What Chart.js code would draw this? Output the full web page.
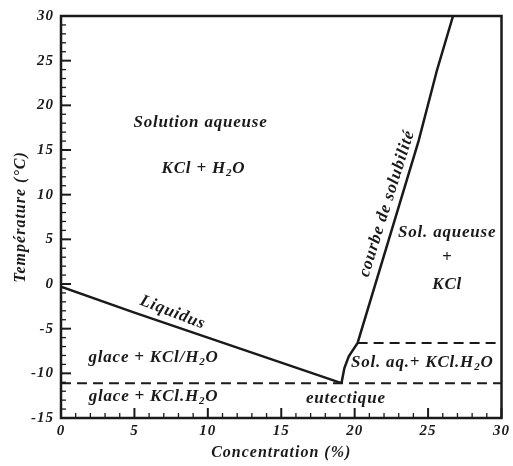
<!DOCTYPE html>
<html lang="fr">
  <head>
    <meta charset="UTF-8" />
    <title>Diagramme KCl - H2O</title>
    <script src="https://cdn.jsdelivr.net/npm/chart.js@4.4.0/dist/chart.umd.min.js"></script>
    <style>
      html, body { margin: 0; padding: 0; background: #fff; }
      .chart-container { width: 513px; height: 466px; }
    </style>
  </head>
  <body>
    <div class="chart-container">
      <canvas id="myChart"></canvas>
    </div>

    <script>
      // liquidus (glace / solution)
      const liqConc = [0, 5, 10, 15, 19.1];
      const liqTemp = [-0.3, -3.2, -6.0, -8.8, -11.1];

      // courbe de solubilite, depuis l'eutectique
      const solConc = [19.1, 19.3, 19.6, 20.2, 24.35, 25.6, 26.7];
      const solTemp = [-11.1, -9.4, -8.1, -6.6, 16, 23.9, 30];

      // paliers (tirets)
      const eutConc = [0, 30];
      const eutTemp = [-11.1, -11.1];
      const hydConc = [20.2, 30];
      const hydTemp = [-6.6, -6.6];

      const xTicks = [0, 5, 10, 15, 20, 25, 30];
      const yTicks = [-15, -10, -5, 0, 5, 10, 15, 20, 25, 30];

      // textes dans le diagramme : [texte, concentration, temperature, angle]
      const notes = [
        ["Solution aqueuse", 9.5, 18.1, 0],
        ["KCl + H_2O", 9.7, 12.9, 0],
        ["Liquidus", 7.6, -3.2, 21],
        ["glace + KCl/H_2O", 6.3, -8.2, 0],
        ["glace + KCl.H_2O", 6.3, -12.6, 0],
        ["eutectique", 19.4, -12.8, 0],
        ["Sol. aq.+ KCl.H_2O", 24.6, -8.8, 0],
        ["Sol. aqueuse", 26.3, 5.8, 0],
        ["+", 26.3, 2.9, 0],
        ["KCl", 26.3, -0.1, 0],
        ["courbe de solubilité", 22.2, 9.0, -72.5],
      ];

      const toXY = (xs, ys) => xs.map((x, i) => ({ x: x, y: ys[i] }));
      const FONT = "'Liberation Serif', 'Times New Roman', serif";
      const INK = "#1a1a1a";

      function drawRich(ctx, str, size) {
        // "_2" => indice
        const parts = [];
        let i = 0, buf = "";
        while (i < str.length) {
          if (str[i] === "_") {
            if (buf) parts.push([buf, false]);
            buf = "";
            parts.push([str[i + 1], true]);
            i += 2;
          } else {
            buf += str[i];
            i++;
          }
        }
        if (buf) parts.push([buf, false]);
        const big = "italic bold " + size + "px " + FONT;
        const small = "italic bold " + Math.round(size * 0.62) + "px " + FONT;
        let total = 0;
        parts.forEach((p) => {
          ctx.font = p[1] ? small : big;
          total += ctx.measureText(p[0]).width;
        });
        let x = -total / 2;
        ctx.textAlign = "left";
        ctx.textBaseline = "middle";
        parts.forEach((p) => {
          ctx.font = p[1] ? small : big;
          ctx.fillText(p[0], x, p[1] ? size * 0.28 : 0);
          x += ctx.measureText(p[0]).width;
        });
      }

      const framePlugin = {
        id: "frame",
        beforeDraw(chart) {
          // texte un peu espace, comme l'original
          chart.ctx.letterSpacing = "1px";
        },
        afterDatasetsDraw(chart) {
          const ctx = chart.ctx;
          const a = chart.chartArea;
          const sx = chart.scales.x, sy = chart.scales.y;
          ctx.save();
          ctx.strokeStyle = INK;
          // ticks vers l'interieur
          for (let v = 0; v <= 30; v++) {
            const px = sx.getPixelForValue(v);
            const len = v % 5 === 0 ? 10 : 5;
            ctx.lineWidth = v % 5 === 0 ? 2 : 1.3;
            ctx.beginPath();
            ctx.moveTo(px, a.bottom);
            ctx.lineTo(px, a.bottom - len);
            ctx.stroke();
          }
          for (let v = -15; v <= 30; v++) {
            const py = sy.getPixelForValue(v);
            const len = v % 5 === 0 ? 10 : 5;
            ctx.lineWidth = v % 5 === 0 ? 2 : 1.3;
            ctx.beginPath();
            ctx.moveTo(a.left, py);
            ctx.lineTo(a.left + len, py);
            ctx.stroke();
          }
          ctx.lineWidth = 2.5;
          ctx.strokeRect(a.left, a.top, a.right - a.left, a.bottom - a.top);

          ctx.fillStyle = INK;
          ctx.letterSpacing = "0.8px";
          notes.forEach((n) => {
            ctx.save();
            ctx.translate(sx.getPixelForValue(n[1]), sy.getPixelForValue(n[2]));
            ctx.rotate((n[3] * Math.PI) / 180);
            drawRich(ctx, n[0], 17);
            ctx.restore();
          });
          ctx.restore();
        },
      };

      const solid = { borderColor: INK, borderWidth: 2.5, pointRadius: 0, showLine: true, fill: false, tension: 0 };
      const dashed = { borderColor: INK, borderWidth: 2, borderDash: [10, 6], pointRadius: 0, showLine: true, fill: false };

      const tickFont = { family: FONT, size: 15, style: "italic", weight: "bold" };
      const titleFont = { family: FONT, size: 16, style: "italic", weight: "bold" };

      const myChart = new Chart(document.getElementById("myChart"), {
        type: "scatter",
        data: {
          datasets: [
            Object.assign({ label: "Liquidus", data: toXY(liqConc, liqTemp) }, solid),
            Object.assign({ label: "Solubilite", data: toXY(solConc, solTemp) }, solid),
            Object.assign({ label: "Eutectique", data: toXY(eutConc, eutTemp) }, dashed),
            Object.assign({ label: "Hydrate", data: toXY(hydConc, hydTemp) }, dashed),
          ],
        },
        options: {
          responsive: true,
          maintainAspectRatio: false,
          animation: false,
          layout: { padding: { left: 0, top: 15, right: 10, bottom: 0 } },
          plugins: { legend: { display: false }, tooltip: { enabled: false } },
          scales: {
            x: {
              type: "linear",
              min: 0,
              max: 30,
              afterBuildTicks: (s) => { s.ticks = xTicks.map((v) => ({ value: v })); },
              afterFit: (s) => { s.height = 48; },
              grid: { display: false, drawTicks: false },
              border: { display: false },
              ticks: { font: tickFont, color: INK, padding: 4, maxRotation: 0 },
              title: { display: true, text: "Concentration (%)", font: titleFont, color: INK, padding: { top: 0, bottom: 4 } },
            },
            y: {
              type: "linear",
              min: -15,
              max: 30,
              afterBuildTicks: (s) => { s.ticks = yTicks.map((v) => ({ value: v })); },
              afterFit: (s) => { s.width = 61; },
              grid: { display: false, drawTicks: false },
              border: { display: false },
              ticks: { font: tickFont, color: INK, padding: 7 },
              title: { display: true, text: "Température (°C)", font: titleFont, color: INK, padding: { top: 11, bottom: 0 } },
            },
          },
        },
        plugins: [framePlugin],
      });
    </script>
  </body>
</html>
